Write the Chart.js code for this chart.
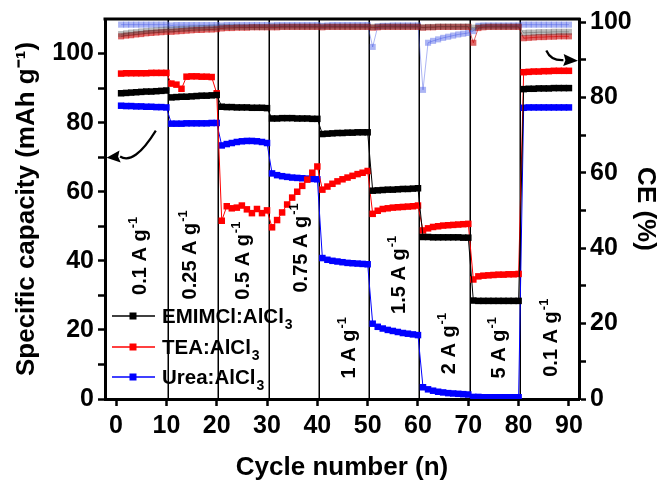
<!DOCTYPE html>
<html>
<head>
<meta charset="utf-8">
<script src="https://cdn.jsdelivr.net/npm/chart.js@4.4.0/dist/chart.umd.min.js"></script>
<style>
  html, body { margin: 0; padding: 0; background: #fff; }
  #wrap { width: 663px; height: 480px; }
</style>
</head>
<body>
<div id="wrap"><canvas id="rateChart" width="663" height="480"></canvas></div>
<script>
// cycle numbers 1..90
const cycles = Array.from({ length: 90 }, (_, i) => i + 1);

// specific capacity (mAh/g), left axis
const capEmim = [
  88.5, 88.6, 88.7, 88.8, 88.9, 89.0, 89.0, 89.1, 89.2, 89.3,
  87.3, 87.4, 87.5, 87.5, 87.6, 87.7, 87.8, 87.8, 87.9, 88.0,
  84.6, 84.5, 84.5, 84.4, 84.4, 84.4, 84.3, 84.3, 84.3, 84.2,
  81.2, 81.2, 81.3, 81.3, 81.3, 81.2, 81.2, 81.2, 81.1, 81.1,
  76.7, 76.8, 76.9, 77.0, 77.0, 77.1, 77.1, 77.2, 77.2, 77.2,
  60.3, 60.4, 60.5, 60.6, 60.6, 60.7, 60.8, 60.8, 60.9, 61.0,
  46.9, 46.9, 46.8, 46.8, 46.8, 46.8, 46.8, 46.8, 46.7, 46.7,
  28.5, 28.4, 28.4, 28.4, 28.4, 28.4, 28.4, 28.4, 28.4, 28.4,
  89.7, 89.8, 89.8, 89.9, 89.9, 89.9, 90.0, 90.0, 90.0, 90.0
];
const capTea = [
  94.2, 94.3, 94.3, 94.3, 94.3, 94.3, 94.4, 94.4, 94.4, 94.4,
  91.3, 91.0, 89.8, 93.3, 93.4, 93.4, 93.3, 93.3, 93.2, 88.5,
  51.6, 55.8, 55.2, 55.4, 56.0, 54.9, 53.8, 55.0, 53.8, 54.6,
  49.7, 51.8, 54.0, 56.3, 58.3, 60.0, 61.7, 63.5, 65.5, 67.3,
  60.6, 61.5, 62.3, 63.0, 63.6, 64.1, 64.6, 65.1, 65.5, 66.0,
  53.6, 54.5, 55.0, 55.2, 55.4, 55.5, 55.6, 55.7, 55.8, 56.0,
  48.8, 49.4, 49.8, 50.0, 50.2, 50.3, 50.4, 50.5, 50.6, 50.7,
  34.6, 35.5, 35.7, 35.8, 35.9, 36.0, 36.0, 36.1, 36.1, 36.2,
  94.6, 94.7, 94.8, 94.8, 94.9, 94.9, 95.0, 95.0, 95.0, 95.0
];
const capUrea = [
  84.9, 84.8, 84.8, 84.7, 84.7, 84.6, 84.6, 84.5, 84.5, 84.4,
  79.7, 79.7, 79.7, 79.8, 79.8, 79.8, 79.8, 79.8, 79.9, 79.9,
  73.4, 73.8, 74.1, 74.4, 74.6, 74.7, 74.7, 74.6, 74.4, 74.1,
  65.3, 64.8, 64.5, 64.3, 64.1, 64.0, 63.9, 63.8, 63.7, 63.6,
  40.8, 40.3, 40.0, 39.8, 39.6, 39.4, 39.3, 39.2, 39.1, 39.0,
  21.8, 20.9, 20.4, 20.0, 19.7, 19.4, 19.1, 18.9, 18.7, 18.5,
  3.4, 2.8, 2.4, 2.1, 1.9, 1.7, 1.6, 1.5, 1.4, 1.3,
  0.6, 0.6, 0.5, 0.5, 0.5, 0.5, 0.5, 0.5, 0.5, 0.5,
  84.3, 84.4, 84.4, 84.4, 84.4, 84.4, 84.4, 84.4, 84.4, 84.4
];

// coulombic efficiency (%), right axis
const ceEmim = [
  96.8, 97.0, 97.2, 97.3, 97.5, 97.6, 97.7, 97.8, 97.9, 98.0,
  98.0, 98.1, 98.2, 98.2, 98.3, 98.3, 98.4, 98.4, 98.5, 98.5,
  98.7, 98.7, 98.7, 98.7, 98.7, 98.7, 98.7, 98.7, 98.7, 98.7,
  98.8, 98.8, 98.8, 98.8, 98.8, 98.8, 98.8, 98.8, 98.8, 98.8,
  98.8, 98.8, 98.8, 98.8, 98.8, 98.8, 98.8, 98.8, 98.8, 98.8,
  98.7, 98.8, 98.8, 98.8, 98.8, 98.8, 98.8, 98.8, 98.8, 98.8,
  98.6, 98.7, 98.7, 98.8, 98.8, 98.8, 98.8, 98.8, 98.8, 98.8,
  98.5, 98.7, 98.8, 98.8, 98.8, 98.8, 98.8, 98.8, 98.8, 98.8,
  97.1, 97.2, 97.2, 97.3, 97.3, 97.3, 97.4, 97.4, 97.4, 97.4
];
const ceTea = [
  96.2, 96.4, 96.5, 96.7, 96.8, 97.0, 97.1, 97.2, 97.3, 97.4,
  97.4, 97.5, 97.6, 97.7, 97.8, 97.9, 97.9, 98.0, 98.0, 98.1,
  98.3, 98.4, 98.4, 98.5, 98.5, 98.5, 98.6, 98.6, 98.6, 98.6,
  98.6, 98.6, 98.7, 98.7, 98.7, 98.7, 98.7, 98.7, 98.7, 98.7,
  98.6, 98.7, 98.7, 98.7, 98.7, 98.7, 98.7, 98.7, 98.7, 98.7,
  98.5, 98.6, 98.7, 98.7, 98.7, 98.7, 98.7, 98.7, 98.7, 98.7,
  98.5, 98.6, 98.6, 98.7, 98.7, 98.7, 98.7, 98.7, 98.7, 98.7,
  94.5, 98.4, 98.6, 98.7, 98.7, 98.7, 98.7, 98.7, 98.7, 98.7,
  95.7, 95.8, 95.9, 96.0, 96.0, 96.1, 96.1, 96.2, 96.2, 96.2
];
const ceUrea = [
  99.3, 99.3, 99.3, 99.3, 99.3, 99.3, 99.3, 99.3, 99.3, 99.3,
  99.1, 99.2, 99.2, 99.2, 99.2, 99.2, 99.2, 99.2, 99.2, 99.2,
  99.1, 99.2, 99.2, 99.2, 99.2, 99.2, 99.2, 99.2, 99.2, 99.2,
  99.1, 99.2, 99.2, 99.2, 99.2, 99.2, 99.2, 99.2, 99.2, 99.2,
  99.0, 99.1, 99.2, 99.2, 99.2, 99.2, 99.2, 99.2, 99.2, 99.2,
  93.4, 98.8, 99.0, 99.0, 99.1, 99.1, 99.1, 99.1, 99.1, 99.1,
  82.0, 94.5, 95.0, 95.4, 95.8, 96.1, 96.4, 96.7, 96.9, 97.1,
  97.6, 99.0, 99.1, 99.1, 99.1, 99.1, 99.1, 99.1, 99.1, 99.1,
  99.3, 99.3, 99.3, 99.3, 99.3, 99.3, 99.3, 99.3, 99.3, 99.3
];

const xTicks = [0, 10, 20, 30, 40, 50, 60, 70, 80, 90];
const capTicks = [0, 10, 20, 30, 40, 50, 60, 70, 80, 90, 100];
const ceTicks = [0, 10, 20, 30, 40, 50, 60, 70, 80, 90, 100];
const dividers = [10.3, 20.3, 30.3, 40.3, 50.3, 60.3, 70.3, 80.3];
const rates = ['0.1', '0.25', '0.5', '0.75', '1', '1.5', '2', '5', '0.1'];
const seriesNames = ['EMIMCl:AlCl', 'TEA:AlCl', 'Urea:AlCl'];

// where the rate labels sit (x in cycles, y in mAh/g)
const rateSpots = [
  [4.5, 41.3], [14.4, 41.6], [25.0, 39.9], [36.6, 43.6], [46.1, 14.7],
  [56.1, 35.8], [66.0, 15.9], [75.9, 14.7], [86.3, 17.6]
];

const FONT = '"Liberation Sans", Arial, Helvetica, sans-serif';

function pts(vals) {
  return cycles.map((c, i) => ({ x: c, y: vals[i] }));
}

function capSet(label, vals, color) {
  return {
    label, data: pts(vals), yAxisID: 'y',
    borderColor: color, backgroundColor: color,
    borderWidth: 1, pointStyle: 'rect', pointRadius: 4.6,
    pointBorderWidth: 0, pointBackgroundColor: color
  };
}
function ceSet(label, vals, color) {
  return {
    label, data: pts(vals), yAxisID: 'y2',
    borderColor: color, backgroundColor: color,
    borderWidth: 1, pointStyle: 'rect', pointRadius: 4.3,
    pointBorderWidth: 0, pointBackgroundColor: color
  };
}

function drawArrow(ctx, p0, c, p1, tip) {
  ctx.beginPath();
  ctx.moveTo(p0[0], p0[1]);
  ctx.quadraticCurveTo(c[0], c[1], p1[0], p1[1]);
  ctx.stroke();
  const ang = Math.atan2(tip[1] - p1[1], tip[0] - p1[0]);
  const len = Math.hypot(tip[0] - p1[0], tip[1] - p1[1]);
  ctx.beginPath();
  ctx.moveTo(tip[0], tip[1]);
  ctx.lineTo(tip[0] - len * Math.cos(ang) + 6 * Math.sin(ang), tip[1] - len * Math.sin(ang) - 6 * Math.cos(ang));
  ctx.lineTo(p1[0] + 2 * Math.cos(ang), p1[1] + 2 * Math.sin(ang));
  ctx.lineTo(tip[0] - len * Math.cos(ang) - 6 * Math.sin(ang), tip[1] - len * Math.sin(ang) + 6 * Math.cos(ang));
  ctx.closePath();
  ctx.fill();
}

const decor = {
  id: 'decor',
  beforeDatasetsDraw(chart) {
    const { ctx, chartArea: a, scales: { x } } = chart;
    ctx.save();
    ctx.strokeStyle = '#000';
    ctx.lineWidth = 1.5;
    dividers.forEach(v => {
      const px = Math.round(x.getPixelForValue(v)) + 0.25;
      ctx.beginPath();
      ctx.moveTo(px, a.top);
      ctx.lineTo(px, a.bottom);
      ctx.stroke();
    });
    ctx.restore();
  },
  afterDraw(chart) {
    const { ctx, chartArea: a, scales: { x, y } } = chart;
    ctx.save();
    // top frame
    ctx.strokeStyle = '#000';
    ctx.lineWidth = 3;
    ctx.beginPath();
    ctx.moveTo(a.left - 1.5, a.top);
    ctx.lineTo(a.right + 1.5, a.top);
    ctx.stroke();

    // current density labels, rotated
    ctx.fillStyle = '#000';
    rates.forEach((r, i) => {
      const cx = x.getPixelForValue(rateSpots[i][0]);
      const cy = y.getPixelForValue(rateSpots[i][1]);
      const main = r + ' A g';
      ctx.font = 'bold 20px ' + FONT;
      const w1 = ctx.measureText(main).width;
      ctx.font = 'bold 13px ' + FONT;
      const w2 = ctx.measureText('-1').width;
      const start = -(w1 + w2) / 2;
      ctx.save();
      ctx.translate(cx, cy);
      ctx.rotate(-Math.PI / 2);
      ctx.textAlign = 'left';
      ctx.textBaseline = 'alphabetic';
      ctx.font = 'bold 20px ' + FONT;
      ctx.fillText(main, start, 7);
      ctx.font = 'bold 13px ' + FONT;
      ctx.fillText('-1', start + w1 + 1, -2);
      ctx.restore();
    });

    // legend
    const colors = ['#000000', '#ff0000', '#0000ff'];
    const rows = [316, 347, 377];
    seriesNames.forEach((name, i) => {
      const ly = rows[i];
      ctx.strokeStyle = colors[i];
      ctx.fillStyle = colors[i];
      ctx.lineWidth = 1.5;
      ctx.beginPath();
      ctx.moveTo(a.left + 7, ly);
      ctx.lineTo(a.left + 50, ly);
      ctx.stroke();
      ctx.fillRect(a.left + 24.5, ly - 3.5, 7, 7);
      ctx.fillStyle = '#000';
      ctx.textAlign = 'left';
      ctx.textBaseline = 'middle';
      ctx.font = 'bold 20.5px ' + FONT;
      ctx.fillText(name, a.left + 57, ly + 1);
      const w = ctx.measureText(name).width;
      ctx.font = 'bold 14px ' + FONT;
      ctx.fillText('3', a.left + 58 + w, ly + 9);
    });

    // arrows pointing at the axes
    ctx.strokeStyle = '#000';
    ctx.fillStyle = '#000';
    ctx.lineWidth = 2.2;
    const P = (cx, cy) => [x.getPixelForValue(cx), y.getPixelForValue(cy)];
    drawArrow(ctx, P(7.9, 77.7), P(3.6, 67.6), P(0.8, 70.2), P(-1.9, 69.8));
    drawArrow(ctx, P(85.5, 100.9), P(86.4, 97.9), P(88.9, 98.1), P(91.8, 97.9));
    ctx.restore();
  }
};

const axisFont = { family: FONT, size: 25, weight: 'bold' };
const titleFont = { family: FONT, size: 26, weight: 'bold', lineHeight: 1 };

new Chart(document.getElementById('rateChart'), {
  type: 'line',
  data: {
    datasets: [
      capSet('EMIMCl:AlCl3', capEmim, '#000000'),
      capSet('TEA:AlCl3', capTea, '#ff0000'),
      capSet('Urea:AlCl3', capUrea, '#0000ff'),
      ceSet('EMIMCl CE', ceEmim, 'rgba(60,60,60,0.35)'),
      ceSet('TEA CE', ceTea, 'rgba(200,0,0,0.6)'),
      ceSet('Urea CE', ceUrea, 'rgba(70,90,230,0.45)')
    ]
  },
  options: {
    responsive: false,
    animation: false,
    layout: { padding: { top: 17, left: 0, right: 0, bottom: 0 } },
    plugins: { legend: { display: false }, tooltip: { enabled: false } },
    scales: {
      x: {
        type: 'linear', min: -2.2, max: 92,
        afterBuildTicks: s => { s.ticks = xTicks.map(v => ({ value: v })); },
        afterFit: s => { s.height = 81; },
        ticks: { color: '#000', font: axisFont, padding: 5, maxRotation: 0, autoSkip: false },
        grid: { drawOnChartArea: false, tickLength: 7, tickWidth: 2.5, tickColor: '#000' },
        border: { color: '#000', width: 3 },
        title: { display: true, text: 'Cycle number (n)', color: '#000', font: titleFont, padding: { top: 0, bottom: -1 } }
      },
      y: {
        position: 'left', min: 0, max: 110,
        afterBuildTicks: s => { s.ticks = capTicks.map(v => ({ value: v })); },
        afterFit: s => { s.width = 105; },
        ticks: { color: '#000', font: axisFont, padding: 4, autoSkip: false,
          callback: v => (v % 20 === 0 ? v : '') },
        grid: { drawOnChartArea: false, tickLength: 7, tickWidth: 2.5, tickColor: '#000' },
        border: { color: '#000', width: 3 },
        title: { display: true, text: 'Specific capacity (mAh g\u207B\u00B9)', color: '#000',
          font: { family: FONT, size: 26, weight: 'bold', lineHeight: 1 }, padding: { top: 14, bottom: 0 } }
      },
      y2: {
        position: 'right', min: 0, max: 100.8,
        afterBuildTicks: s => { s.ticks = ceTicks.map(v => ({ value: v })); },
        afterFit: s => { s.width = 84; },
        ticks: { color: '#000', font: axisFont, padding: 4, autoSkip: false,
          callback: v => (v % 20 === 0 ? v : '') },
        grid: { drawOnChartArea: false, tickLength: 7, tickWidth: 2.5, tickColor: '#000' },
        border: { color: '#000', width: 3 },
        title: { display: true, text: 'CE (%)', color: '#000', font: titleFont, padding: { top: 5, bottom: 0 } }
      }
    }
  },
  plugins: [decor]
});
</script>
</body>
</html>
